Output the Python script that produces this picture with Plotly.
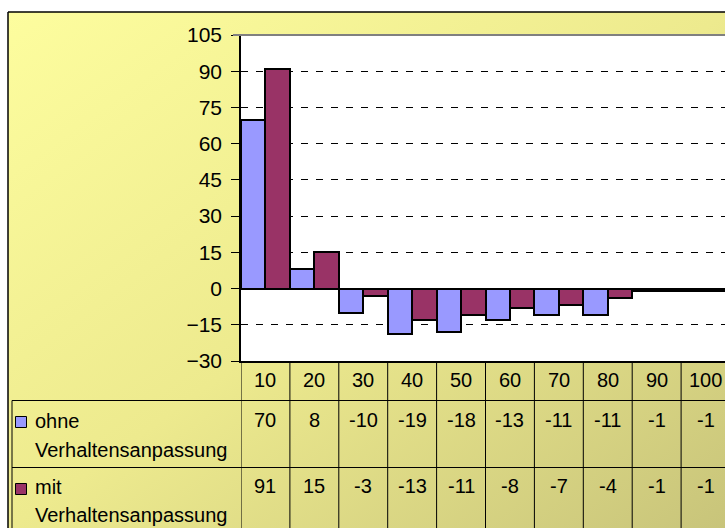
import base64
import plotly.graph_objects as go

# ---- data ----
categories = ["10", "20", "30", "40", "50", "60", "70", "80", "90", "100"]
ohne_values = [70, 8, -10, -19, -18, -13, -11, -11, -1, -1]
mit_values = [91, 15, -3, -13, -11, -8, -7, -4, -1, -1]
series_names = ["ohne", "mit"]
series_sub = "Verhaltensanpassung"
y_ticks = [-30, -15, 0, 15, 30, 45, 60, 75, 90, 105]

BLUE = "#9999FF"
MAROON = "#993366"
FONT = "Liberation Sans, Arial, sans-serif"

# layout geometry (pixels)
W, H = 725, 528
L, R, T, B = 241, 0, 35, 167
PW = W - L - R
PH = H - T - B
CAT_W = 48.9


def px(x):
    return (x - L) / PW


def py(y):
    return (H - B - y) / PH


x_idx = list(range(len(categories)))

fig = go.Figure()
fig.add_trace(go.Bar(x=x_idx, y=ohne_values, name="ohne " + series_sub,
                     marker=dict(color=BLUE, line=dict(color="black", width=2))))
fig.add_trace(go.Bar(x=x_idx, y=mit_values, name="mit " + series_sub,
                     marker=dict(color=MAROON, line=dict(color="black", width=2))))

# gradient background via inline svg image
svg = ("<svg xmlns='http://www.w3.org/2000/svg' width='200' height='200' preserveAspectRatio='none'>"
       "<defs><linearGradient id='g' x1='0' y1='0' x2='1' y2='1'>"
       "<stop offset='0' stop-color='#FDFD9E'/>"
       "<stop offset='0.5' stop-color='#EDEA8E'/>"
       "<stop offset='1' stop-color='#C8C47A'/>"
       "</linearGradient></defs>"
       "<rect width='200' height='200' fill='url(#g)'/></svg>")
uri = "data:image/svg+xml;base64," + base64.b64encode(svg.encode()).decode()
fig.add_layout_image(dict(source=uri, xref="paper", yref="paper",
                          x=px(8), y=py(12), sizex=px(W + 2) - px(8), sizey=py(12) - py(H + 2),
                          sizing="stretch", layer="below", xanchor="left", yanchor="top"))

shapes = []
# white plot area
shapes.append(dict(type="rect", xref="paper", yref="paper", x0=0, x1=1.01, y0=0, y1=1,
                   fillcolor="white", line=dict(width=0), layer="below"))
# top plot border (gray)
shapes.append(dict(type="line", xref="paper", yref="paper", x0=px(233), x1=1.01, y0=1, y1=1,
                   line=dict(color="#808080", width=2)))
# outer chart border
shapes.append(dict(type="line", xref="paper", yref="paper", x0=px(8), x1=px(8), y0=py(12), y1=py(H + 5),
                   line=dict(color="black", width=1.5)))
shapes.append(dict(type="line", xref="paper", yref="paper", x0=px(8), x1=1.02, y0=py(12), y1=py(12),
                   line=dict(color="black", width=1.5)))
# table lines
shapes.append(dict(type="line", xref="paper", yref="paper", x0=px(12), x1=px(12), y0=py(400.5), y1=py(H + 5),
                   line=dict(color="black", width=1)))
for yy in (400.5, 467.5):
    shapes.append(dict(type="line", xref="paper", yref="paper", x0=px(12), x1=1.02, y0=py(yy), y1=py(yy),
                       line=dict(color="black", width=1)))
for i in range(len(categories)):
    shapes.append(dict(type="line", xref="x", yref="paper", x0=i - 0.5, x1=i - 0.5, y0=0, y1=py(H + 5),
                       line=dict(color="black", width=1)))
# legend keys
for yc, col in ((422, BLUE), (489, MAROON)):
    shapes.append(dict(type="rect", xref="paper", yref="paper", x0=px(15.5), x1=px(26.5),
                       y0=py(yc - 5.5), y1=py(yc + 5.5), fillcolor=col, line=dict(color="black", width=1)))
fig.update_layout(shapes=shapes)

ann = []
tf = dict(family=FONT, size=20, color="black")
for i, c in enumerate(categories):
    ann.append(dict(x=i, y=py(379.5), xref="x", yref="paper", text=c, showarrow=False, font=tf,
                    xanchor="center", yanchor="middle"))
    ann.append(dict(x=i, y=py(420), xref="x", yref="paper", text=str(ohne_values[i]), showarrow=False,
                    font=tf, xanchor="center", yanchor="middle"))
    ann.append(dict(x=i, y=py(486), xref="x", yref="paper", text=str(mit_values[i]), showarrow=False,
                    font=tf, xanchor="center", yanchor="middle"))
for yc1, yc2, name in [(421, 449.5, series_names[0]), (487, 515, series_names[1])]:
    ann.append(dict(x=px(33), y=py(yc1), xref="paper", yref="paper", text=name, showarrow=False, font=tf,
                    xanchor="left", yanchor="middle"))
    ann.append(dict(x=px(33), y=py(yc2), xref="paper", yref="paper", text=series_sub, showarrow=False,
                    font=tf, xanchor="left", yanchor="middle"))
fig.update_layout(annotations=ann)

fig.update_layout(
    width=W, height=H,
    margin=dict(l=L, r=R, t=T, b=B, pad=0),
    paper_bgcolor="white", plot_bgcolor="rgba(0,0,0,0)",
    showlegend=False, barmode="group", bargap=0, bargroupgap=0,
    font=dict(family=FONT, color="black"),
)
fig.update_xaxes(range=[-0.5, -0.5 + PW / CAT_W], showticklabels=False, showgrid=False, zeroline=False,
                 showline=True, linecolor="black", linewidth=1.5, ticks="")
fig.update_yaxes(range=[-30, 105], tickvals=y_ticks, ticks="outside", ticklen=8, tickcolor="black",
                 tickwidth=1, showline=True, linecolor="black", linewidth=1.5,
                 showgrid=True, gridcolor="black", gridwidth=1, griddash="7px,8px",
                 zeroline=True, zerolinecolor="black", zerolinewidth=2,
                 tickfont=dict(family=FONT, size=21, color="black"), ticklabelstandoff=5)

fig.write_html("out.html", config={"displayModeBar": False},
               post_script="document.body.style.margin='0';document.body.style.overflow='hidden';")
